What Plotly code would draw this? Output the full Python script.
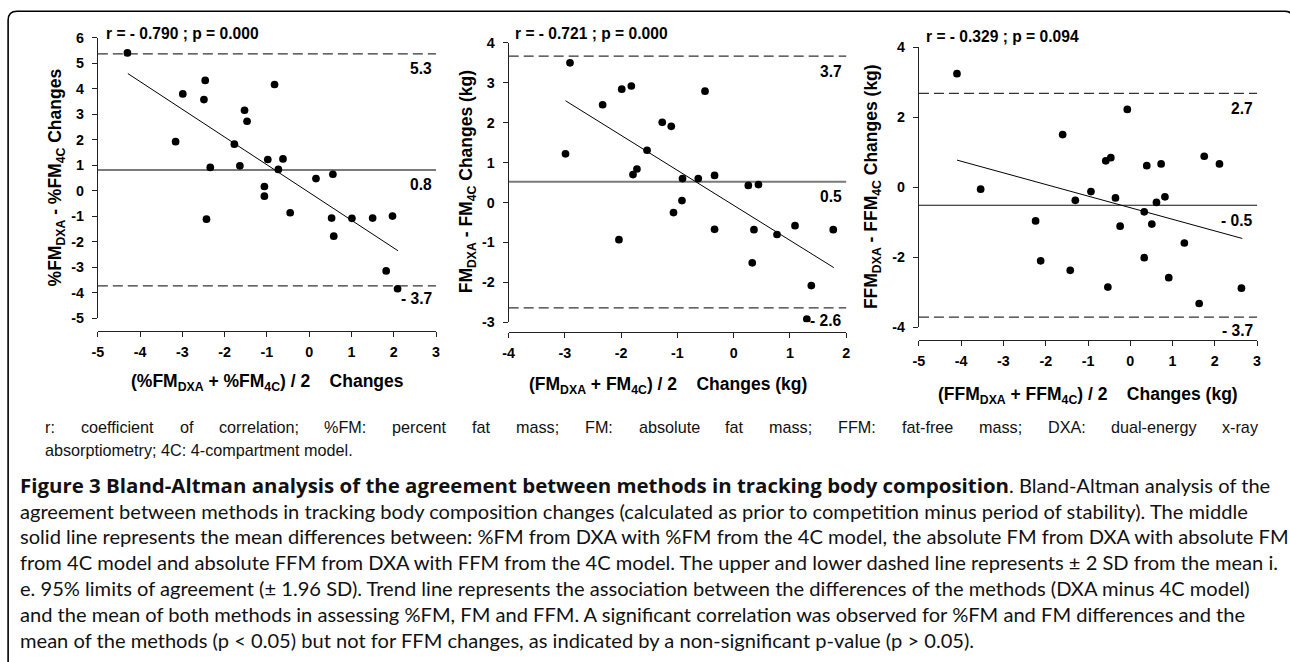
import plotly.graph_objects as go

W, H = 1290, 662
# The photographed picture keeps an 8px white border round the page and is scaled
# back to 1290x662; positions below are given in picture pixels and mapped to the page.
BORDER = 8
KX = W / (W + 2 * BORDER)
KY = H / (H + 2 * BORDER)

# ---------------- data ----------------
# Panel 1: %FM
p1_mean = [-4.30, -3.16, -2.99, -2.46, -2.49, -2.34, -2.43, -1.53, -1.47, -1.77, -1.64,
           -0.82, -0.98, -0.62, -0.73, -1.06, -1.06, -0.45, 0.16, 0.56, 0.53, 0.58,
           1.01, 1.50, 1.97, 1.82, 2.09]
p1_diff = [5.41, 1.93, 3.80, 4.33, 3.58, 0.92, -1.11, 3.16, 2.73, 1.83, 0.98,
           4.17, 1.23, 1.25, 0.84, 0.17, -0.21, -0.86, 0.48, 0.65, -1.07, -1.78,
           -1.08, -1.07, -0.99, -3.14, -3.84]
p1_trend_x = [-4.29, 2.10]
p1_trend_y = [4.60, -2.35]
p1_lines = [5.37, 0.82, -3.73]          # upper limit, mean, lower limit
p1_labels = ["5.3", "0.8", "- 3.7"]
p1_stat = "r = - 0.790 ; p = 0.000"

# Panel 2: FM (kg)
p2_mean = [-2.91, -2.99, -2.33, -1.99, -1.82, -2.04, -1.79, -1.72, -1.54, -1.27, -1.11,
           -1.07, -0.91, -0.92, -0.63, -0.51, -0.34, -0.34, 0.26, 0.44, 0.36, 0.33,
           0.77, 1.09, 1.77, 1.38, 1.30]
p2_diff = [3.50, 1.22, 2.45, 2.84, 2.92, -0.93, 0.70, 0.84, 1.31, 2.01, 1.91,
           -0.25, 0.60, 0.05, 0.60, 2.79, 0.68, -0.67, 0.43, 0.45, -0.68, -1.51,
           -0.80, -0.58, -0.68, -2.08, -2.92]
p2_trend_x = [-2.99, 1.78]
p2_trend_y = [2.55, -1.63]
p2_lines = [3.67, 0.52, -2.64]
p2_labels = ["3.7", "0.5", "- 2.6"]
p2_stat = "r = - 0.721 ; p = 0.000"

# Panel 3: FFM (kg)
p3_mean = [-4.10, -3.54, -2.24, -2.12, -1.60, -1.42, -1.30, -0.93, -0.58, -0.46, -0.53,
           -0.35, -0.24, -0.07, 0.33, 0.39, 0.33, 0.51, 0.62, 0.73, 0.82, 0.91,
           1.28, 1.75, 2.11, 1.63, 2.63]
p3_diff = [3.25, -0.05, -0.96, -2.10, 1.51, -2.37, -0.37, -0.12, 0.76, 0.85, -2.85,
           -0.30, -1.11, 2.23, -0.70, 0.62, -2.01, -1.05, -0.43, 0.67, -0.27, -2.58,
           -1.59, 0.89, 0.67, -3.32, -2.88]
p3_trend_x = [-4.10, 2.65]
p3_trend_y = [0.78, -1.46]
p3_lines = [2.69, -0.51, -3.71]
p3_labels = ["2.7", "- 0.5", "- 3.7"]
p3_stat = "r = - 0.329 ; p = 0.094"

# axis ticks
p1_xticks = [-5, -4, -3, -2, -1, 0, 1, 2, 3]
p1_yticks = [-5, -4, -3, -2, -1, 0, 1, 2, 3, 4, 5, 6]
p2_xticks = [-4, -3, -2, -1, 0, 1, 2]
p2_yticks = [-3, -2, -1, 0, 1, 2, 3, 4]
p3_xticks = [-5, -4, -3, -2, -1, 0, 1, 2, 3]
p3_yticks = [-4, -2, 0, 2, 4]

p1_ytitle = "%FM<sub>DXA</sub> - %FM<sub>4C</sub> Changes"
p1_xtitle = "(%FM<sub>DXA</sub> + %FM<sub>4C</sub>) / 2\u00a0\u00a0\u00a0 Changes"
p2_ytitle = "FM<sub>DXA</sub> - FM<sub>4C</sub> Changes (kg)"
p2_xtitle = "(FM<sub>DXA</sub> + FM<sub>4C</sub>) / 2\u00a0\u00a0\u00a0 Changes (kg)"
p3_ytitle = "FFM<sub>DXA</sub> - FFM<sub>4C</sub> Changes (kg)"
p3_xtitle = "(FFM<sub>DXA</sub> + FFM<sub>4C</sub>) / 2\u00a0\u00a0\u00a0 Changes (kg)"

note_line1 = ("r: coefficient of correlation; %FM: percent fat mass; FM: absolute fat mass; "
              "FFM: fat-free mass; DXA: dual-energy x-ray")
note_line2 = "absorptiometry; 4C: 4-compartment model."

caption_bold = "Figure 3 Bland-Altman analysis of the agreement between methods in tracking body composition"
caption_first_rest = ". Bland-Altman analysis of the"
caption_lines = [
    "agreement between methods in tracking body composition changes (calculated as prior to competition minus period of stability). The middle",
    "solid line represents the mean differences between: %FM from DXA with %FM from the 4C model, the absolute FM from DXA with absolute FM",
    "from 4C model and absolute FFM from DXA with FFM from the 4C model. The upper and lower dashed line represents \u00b1 2 SD from the mean i.",
    "e. 95% limits of agreement (\u00b1 1.96 SD). Trend line represents the association between the differences of the methods (DXA minus 4C model)",
    "and the mean of both methods in assessing %FM, FM and FFM. A significant correlation was observed for %FM and FM differences and the",
    "mean of the methods (p &lt; 0.05) but not for FFM changes, as indicated by a non-significant p-value (p &gt; 0.05).",
]

# ---------------- layout helpers (picture pixel -> page pixel -> paper fraction) ----------------
def px2page(px):
    return px / KX - BORDER


def py2page(py):
    return py / KY - BORDER


def fx(px):
    return px2page(px) / W


def fy(py):
    return 1 - py2page(py) / H


BOLD = "Liberation Sans"
CAP_FONT = "Lato"
CAP_SIZE = 20.1
CAP_BOLD_SIZE = 20.45
TICK_SIZE = 14.3
TITLE_SIZE = 17.5
STAT_SIZE = 15.6

panels = [
    dict(mean=p1_mean, diff=p1_diff, tx=p1_trend_x, ty=p1_trend_y, lines=p1_lines,
         labels=p1_labels, stat=p1_stat, xt=p1_xticks, yt=p1_yticks,
         xr=[-5, 3], yr=[-5, 6], xdom=(99.3, 436.0), ydom=(318.3, 37.7), xpos=331.0,
         meancol="#7a7a7a", meanw=2.0,
         ytitle=p1_ytitle, ytpos=(58, 177), xtitle=p1_xtitle, xtpos=(268, 383),
         statpos=(106, 33)),
    dict(mean=p2_mean, diff=p2_diff, tx=p2_trend_x, ty=p2_trend_y, lines=p2_lines,
         labels=p2_labels, stat=p2_stat, xt=p2_xticks, yt=p2_yticks,
         xr=[-4, 2], yr=[-3, 4], xdom=(508.3, 844.3), ydom=(322.3, 42.7), xpos=331.7,
         meancol="#7a7a7a", meanw=2.0,
         ytitle=p2_ytitle, ytpos=(467, 182), xtitle=p2_xtitle, xtpos=(667, 386),
         statpos=(514, 33)),
    dict(mean=p3_mean, diff=p3_diff, tx=p3_trend_x, ty=p3_trend_y, lines=p3_lines,
         labels=p3_labels, stat=p3_stat, xt=p3_xticks, yt=p3_yticks,
         xr=[-5, 3], yr=[-4, 4], xdom=(916.7, 1253.3), ydom=(327.3, 47.3), xpos=340.0,
         meancol="#111111", meanw=1.2,
         ytitle=p3_ytitle, ytpos=(870, 187), xtitle=p3_xtitle, xtpos=(1085, 396),
         statpos=(923, 36)),
]

fig = go.Figure()
shapes = []
annotations = []
layout_axes = {}

for i, p in enumerate(panels, start=1):
    xa = "x" if i == 1 else f"x{i}"
    ya = "y" if i == 1 else f"y{i}"
    xkey = "xaxis" if i == 1 else f"xaxis{i}"
    ykey = "yaxis" if i == 1 else f"yaxis{i}"

    layout_axes[xkey] = dict(
        domain=[fx(p["xdom"][0]), fx(p["xdom"][1])], range=p["xr"], anchor="free",
        position=fy(p["xpos"]), tickmode="array", tickvals=p["xt"],
        ticktext=[str(v) for v in p["xt"]], showline=True, linecolor="#222",
        linewidth=1.2, ticks="outside", ticklen=5, tickcolor="#222", tickwidth=1.2,
        showgrid=False, zeroline=False, ticklabelstandoff=3,
        tickfont=dict(family=BOLD, size=TICK_SIZE, color="black", weight="bold"),
    )
    layout_axes[ykey] = dict(
        domain=[fy(p["ydom"][0]), fy(p["ydom"][1])], range=p["yr"], anchor=xa,
        tickmode="array", tickvals=p["yt"], ticktext=[str(v) for v in p["yt"]],
        showline=True, linecolor="#222", linewidth=1.2, ticks="outside", ticklen=5,
        tickcolor="#222", tickwidth=1.2, showgrid=False, zeroline=False,
        ticklabelstandoff=5,
        tickfont=dict(family=BOLD, size=TICK_SIZE, color="black", weight="bold"),
    )

    # limits of agreement (dashed) and mean (solid)
    for k, val in enumerate(p["lines"]):
        if k == 1:
            line = dict(color=p["meancol"], width=p["meanw"])
        else:
            line = dict(color="#333", width=1.3, dash="10px,5px")
        shapes.append(dict(type="line", xref=f"{xa} domain", x0=0, x1=1, yref=ya,
                           y0=val, y1=val, line=line, layer="below"))
        annotations.append(dict(
            xref=f"{xa} domain", x=1, xanchor="right", xshift=-3,
            yref=ya, y=val, yanchor="middle", yshift=-13 if k == 2 else -15,
            text=p["labels"][k], showarrow=False, borderpad=0,
            font=dict(family=BOLD, size=STAT_SIZE, color="black", weight="bold")))

    # trend line
    fig.add_trace(go.Scatter(x=p["tx"], y=p["ty"], mode="lines", xaxis=xa, yaxis=ya,
                             line=dict(color="black", width=1), hoverinfo="skip"))
    # points
    fig.add_trace(go.Scatter(x=p["mean"], y=p["diff"], mode="markers", xaxis=xa,
                             yaxis=ya, marker=dict(color="black", size=7.7)))

    # stat text
    annotations.append(dict(
        xref="paper", yref="paper", x=fx(p["statpos"][0]), y=fy(p["statpos"][1]),
        xanchor="left", yanchor="middle", text=p["stat"], showarrow=False, borderpad=0,
        font=dict(family=BOLD, size=STAT_SIZE, color="black", weight="bold")))
    # axis titles
    annotations.append(dict(
        xref="paper", yref="paper", x=fx(p["ytpos"][0]), y=fy(p["ytpos"][1]),
        xanchor="center", yanchor="middle", textangle=-90, text=p["ytitle"],
        showarrow=False, borderpad=0,
        font=dict(family=BOLD, size=TITLE_SIZE, color="black", weight="bold")))
    annotations.append(dict(
        xref="paper", yref="paper", x=fx(p["xtpos"][0]), y=fy(p["xtpos"][1]),
        xanchor="center", yanchor="middle", text=p["xtitle"],
        showarrow=False, borderpad=0,
        font=dict(family=BOLD, size=TITLE_SIZE, color="black", weight="bold")))

# ---------------- justified note line (Arial / Liberation Sans metrics) ----------------
ARIAL = {' ': 278, '%': 889, '(': 333, ')': 333, ',': 278, '-': 333, '.': 278, ':': 278,
         ';': 278, '4': 556, 'A': 667, 'C': 722, 'D': 722, 'F': 611, 'M': 833, 'X': 667,
         'a': 556, 'b': 556, 'c': 500, 'd': 556, 'e': 556, 'f': 278, 'g': 556, 'h': 556,
         'i': 222, 'l': 222, 'm': 833, 'n': 556, 'o': 556, 'p': 556, 'r': 333, 's': 500,
         't': 278, 'u': 556, 'x': 500, 'y': 500}
NOTE_SIZE = 16 / KX


def text_w(s, size):
    return sum(ARIAL.get(c, 556) for c in s) / 1000 * size


words = note_line1.split(" ")
left_pg, right_pg = px2page(46), px2page(1253)      # page pixels
wsum = sum(text_w(w, NOTE_SIZE) for w in words)
gap = (right_pg - left_pg - wsum) / (len(words) - 1)
cur = left_pg
for w in words:
    annotations.append(dict(
        xref="paper", yref="paper", x=cur / W, y=fy(427), xanchor="left",
        yanchor="middle", text=w, showarrow=False, borderpad=0,
        font=dict(family="Liberation Sans", size=NOTE_SIZE, color="#111")))
    cur += text_w(w, NOTE_SIZE) + gap

annotations.append(dict(
    xref="paper", yref="paper", x=fx(46), y=fy(450), xanchor="left",
    yanchor="middle", text=note_line2, showarrow=False, borderpad=0,
    font=dict(family="Liberation Sans", size=NOTE_SIZE, color="#111")))

# ---------------- caption ----------------
cap_left = 21
cap_y0, cap_dy = 485, 25.8
first_line = (f'<span style="font-family:\'Open Sans\';font-weight:bold;'
              f'font-size:{CAP_BOLD_SIZE}px">{caption_bold}</span>{caption_first_rest}')
annotations.append(dict(
    xref="paper", yref="paper", x=fx(cap_left), y=fy(cap_y0), xanchor="left",
    yanchor="middle", text=first_line, showarrow=False, borderpad=0,
    font=dict(family=CAP_FONT, size=CAP_SIZE, color="#111")))
for k, line in enumerate(caption_lines, start=1):
    annotations.append(dict(
        xref="paper", yref="paper", x=fx(cap_left), y=fy(cap_y0 + k * cap_dy),
        xanchor="left", yanchor="middle", text=line, showarrow=False, borderpad=0,
        font=dict(family=CAP_FONT, size=CAP_SIZE, color="#111")))

# ---------------- frame (rounded, open at bottom/right edge) ----------------
def pt(px, py):
    return f"{fx(px):.5f},{fy(py):.5f}"


frame_path = (f"M {pt(10, 700)} L {pt(10, 20)} Q {pt(10, 11)} {pt(19, 11)} "
              f"L {pt(1281, 11)} Q {pt(1289, 11)} {pt(1289, 20)} L {pt(1289, 700)}")
shapes.append(dict(type="path", xref="paper", yref="paper", path=frame_path,
                   line=dict(color="black", width=1.6)))

fig.update_layout(
    width=W, height=H, margin=dict(l=0, r=0, t=0, b=0),
    paper_bgcolor="white", plot_bgcolor="white", showlegend=False,
    shapes=shapes, annotations=annotations, **layout_axes,
)

# place the figure flush with the window corner (no default page margin)
fig.write_html("out.html", config={"displayModeBar": False},
               post_script="document.body.style.margin = '0';")
